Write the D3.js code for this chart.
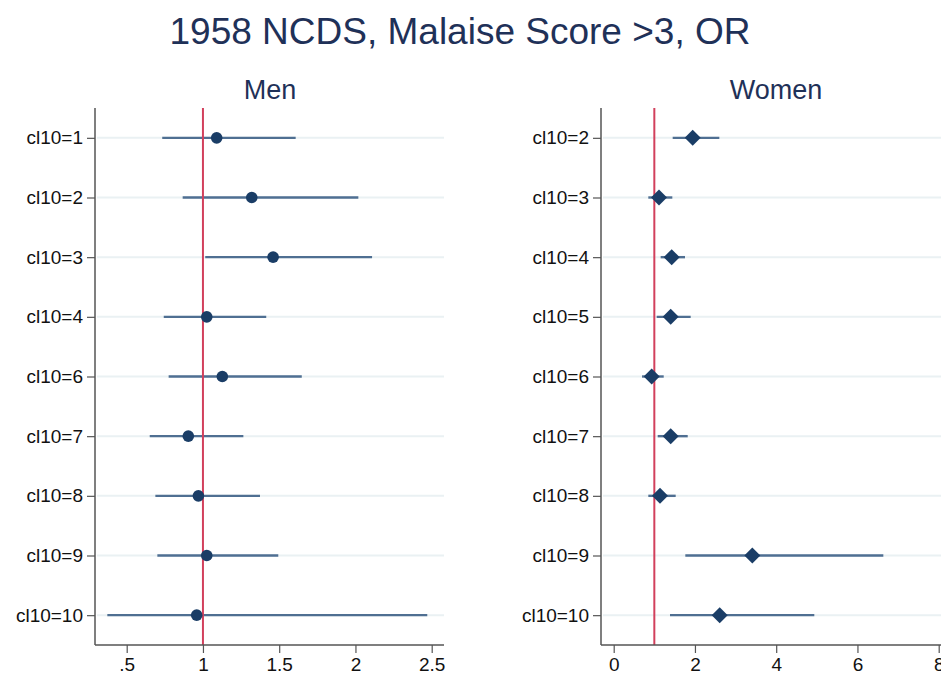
<!DOCTYPE html>
<html><head><meta charset="utf-8">
<script src="https://cdn.jsdelivr.net/npm/d3@7"></script>
<style>body{margin:0;background:#fff}svg{display:block}</style>
</head><body>
<svg id="c" width="941" height="680"></svg>
<script>
const menCats = ["cl10=1","cl10=2","cl10=3","cl10=4","cl10=6","cl10=7","cl10=8","cl10=9","cl10=10"];
const menOR   = [1.09, 1.32, 1.46, 1.025, 1.127, 0.904, 0.97, 1.025, 0.959];
const menLo   = [0.733, 0.867, 1.015, 0.743, 0.775, 0.651, 0.688, 0.701, 0.373];
const menHi   = [1.608, 2.019, 2.109, 1.415, 1.648, 1.265, 1.374, 1.494, 2.471];
const menTicks = [0.5, 1, 1.5, 2, 2.5];

const womenCats = ["cl10=2","cl10=3","cl10=4","cl10=5","cl10=6","cl10=7","cl10=8","cl10=9","cl10=10"];
const womenOR   = [1.944, 1.115, 1.427, 1.402, 0.935, 1.402, 1.14, 3.412, 2.609];
const womenLo   = [1.452, 0.852, 1.156, 1.058, 0.697, 1.083, 0.852, 1.763, 1.386];
const womenHi   = [2.60, 1.443, 1.755, 1.895, 1.231, 1.822, 1.526, 6.637, 4.938];
const womenTicks = [0, 2, 4, 6, 8];

const svg = d3.select("#c");
const FONT = "'Liberation Sans', Arial, Helvetica, sans-serif";
const navy = "#1a3d66", ciCol = "#4f6f92", refCol = "#d2405c", gridCol = "#eaf1f3", titleCol = "#1f3158";

svg.append("text").attr("x", 460).attr("y", 44).attr("text-anchor","middle")
  .attr("font-family", FONT).attr("font-size", 37).attr("fill", titleCol)
  .text("1958 NCDS, Malaise Score >3, OR");

function panel(opt){
  const {cats, or, lo, hi, ticks, x0, x1, tickDom, tickRange, title, titleX, marker, fmt} = opt;
  const top = 108, bottom = 645;
  const x = d3.scaleLinear().domain(tickDom).range(tickRange);
  const y = d3.scalePoint().domain(cats).range([top, bottom]).padding(0.5);
  const g = svg.append("g");
  g.append("text").attr("x", titleX).attr("y", 99).attr("text-anchor","middle")
    .attr("font-family", FONT).attr("font-size", 27).attr("fill", titleCol).text(title);
  g.selectAll("line.grid").data(cats).join("line").attr("class","grid")
    .attr("x1", x0+2).attr("x2", x1).attr("y1", d=>y(d)).attr("y2", d=>y(d))
    .attr("stroke", gridCol).attr("stroke-width", 2);
  g.selectAll("line.ci").data(cats).join("line").attr("class","ci")
    .attr("x1", (d,i)=>x(lo[i])).attr("x2", (d,i)=>x(hi[i]))
    .attr("y1", d=>y(d)).attr("y2", d=>y(d))
    .attr("stroke", ciCol).attr("stroke-width", 2.4);
  g.append("line").attr("x1", x(1)).attr("x2", x(1)).attr("y1", top).attr("y2", bottom)
    .attr("stroke", refCol).attr("stroke-width", 2);
  if (marker === "circle") {
    g.selectAll("circle.pt").data(cats).join("circle").attr("class","pt")
      .attr("cx", (d,i)=>x(or[i])).attr("cy", d=>y(d)).attr("r", 5.8).attr("fill", navy);
  } else {
    const s = 8;
    g.selectAll("path.pt").data(cats).join("path").attr("class","pt")
      .attr("d", (d,i)=>{const cx=x(or[i]), cy=y(d); return `M${cx},${cy-s}L${cx+s},${cy}L${cx},${cy+s}L${cx-s},${cy}Z`;})
      .attr("fill", navy);
  }
  const ya = g.append("g").attr("transform", `translate(${x0},0)`)
    .call(d3.axisLeft(y).tickSize(8).tickPadding(4));
  ya.select(".domain").attr("d", `M0,${top}V${bottom}`).attr("stroke", "#555").attr("stroke-width", 1.5);
  ya.selectAll(".tick line").attr("stroke", "#555").attr("stroke-width", 1.2);
  ya.selectAll("text").attr("font-family", FONT).attr("font-size", 19).attr("fill", "#111");
  const xa = g.append("g").attr("transform", `translate(0,${bottom})`)
    .call(d3.axisBottom(x).tickValues(ticks).tickFormat(fmt).tickSize(8).tickPadding(5));
  xa.select(".domain").attr("d", `M${x0},0H${x1}`).attr("stroke", "#555").attr("stroke-width", 1.5);
  xa.selectAll(".tick line").attr("stroke", "#555").attr("stroke-width", 1.2);
  xa.selectAll("text").attr("font-family", FONT).attr("font-size", 19).attr("fill", "#111");
}

panel({cats: menCats, or: menOR, lo: menLo, hi: menHi, ticks: menTicks,
  x0: 95, x1: 444, tickDom: [0.5, 2.5], tickRange: [126.7, 431.7],
  title: "Men", titleX: 270, marker: "circle",
  fmt: d => d < 1 ? String(d).replace(/^0/, "") : String(d)});
panel({cats: womenCats, or: womenOR, lo: womenLo, hi: womenHi, ticks: womenTicks,
  x0: 601, x1: 941, tickDom: [0, 8], tickRange: [613.7, 938.7],
  title: "Women", titleX: 776, marker: "diamond",
  fmt: d => String(d)});
</script>
</body></html>
